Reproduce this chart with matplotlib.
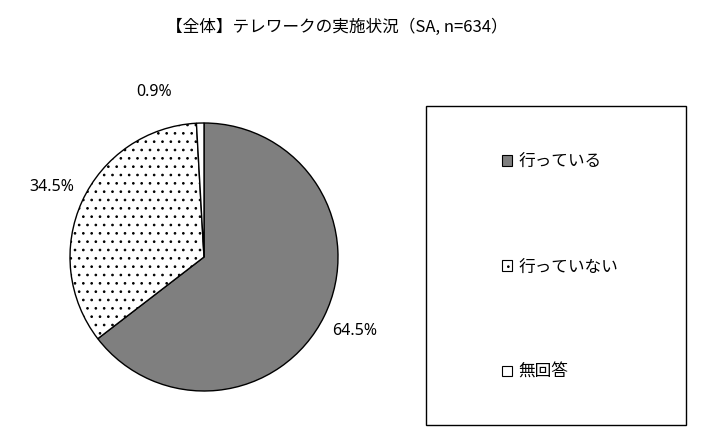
import matplotlib
matplotlib.use("Agg")
import matplotlib.pyplot as plt
import numpy as np
from matplotlib.patches import Patch, Rectangle

plt.rcParams['font.family'] = ['Noto Sans CJK JP', 'DejaVu Sans']
plt.rcParams['hatch.linewidth'] = 0.7

title = "【全体】テレワークの実施状況（SA, n=634）"
categories = ["行っている", "行っていない", "無回答"]
values = [64.5, 34.5, 0.9]
labels = ["64.5%", "34.5%", "0.9%"]
colors = ["#7f7f7f", "white", "white"]
hatches = [None, "..", None]
dot_color = "#707070"

W, H = 708, 442
fig = plt.figure(figsize=(W / 100, H / 100), dpi=100)

# pie axes, center (204,257) radius 134 px
cx, cy, r = 204, 257, 134
ax = fig.add_axes([(cx - r) / W, (H - cy - r) / H, 2 * r / W, 2 * r / H])
wedges, _ = ax.pie(values, colors=colors, startangle=90, counterclock=False,
                   wedgeprops=dict(edgecolor="black", linewidth=1.0))
for w, h in zip(wedges, hatches):
    if h:
        w.set_hatch(h)
        if hasattr(w, "set_hatchcolor"):
            w.set_hatchcolor(dot_color)
ax.set_xlim(-1, 1)
ax.set_ylim(-1, 1)

# data labels outside the slices
for i, (w, lab) in enumerate(zip(wedges, labels)):
    ang = np.deg2rad((w.theta1 + w.theta2) / 2)
    d = 1.25
    x, y = d * np.cos(ang), d * np.sin(ang)
    if i == 2:
        x -= 0.34  # small slice label pulled left like the original
        y -= 0.02
    ax.text(x, y, lab, ha="center", va="center", fontsize=11.5,
            family=["Noto Sans", "DejaVu Sans"], clip_on=False)

fig.text(337 / W, 1 - 27 / H, title, ha="center", va="center", fontsize=12)

# legend box
fig.patches.append(Rectangle((426 / W, (H - 425) / H), 260 / W, 319 / H,
                             transform=fig.transFigure, fill=False,
                             edgecolor="black", linewidth=1.0))
handles = []
for c, h in zip(colors, hatches):
    p = Patch(facecolor=c, edgecolor="black", hatch=h, linewidth=0.8)
    if h and hasattr(p, "set_hatchcolor"):
        p.set_hatchcolor(dot_color)
    handles.append(p)
fig.legend(handles, categories, loc="upper left",
           bbox_to_anchor=(494 / W, 1 - 145 / H), frameon=False,
           fontsize=12, handlelength=0.6, handleheight=0.6,
           handletextpad=0.35, labelspacing=5.3, borderpad=0)

fig.savefig("out.png", dpi=100)
